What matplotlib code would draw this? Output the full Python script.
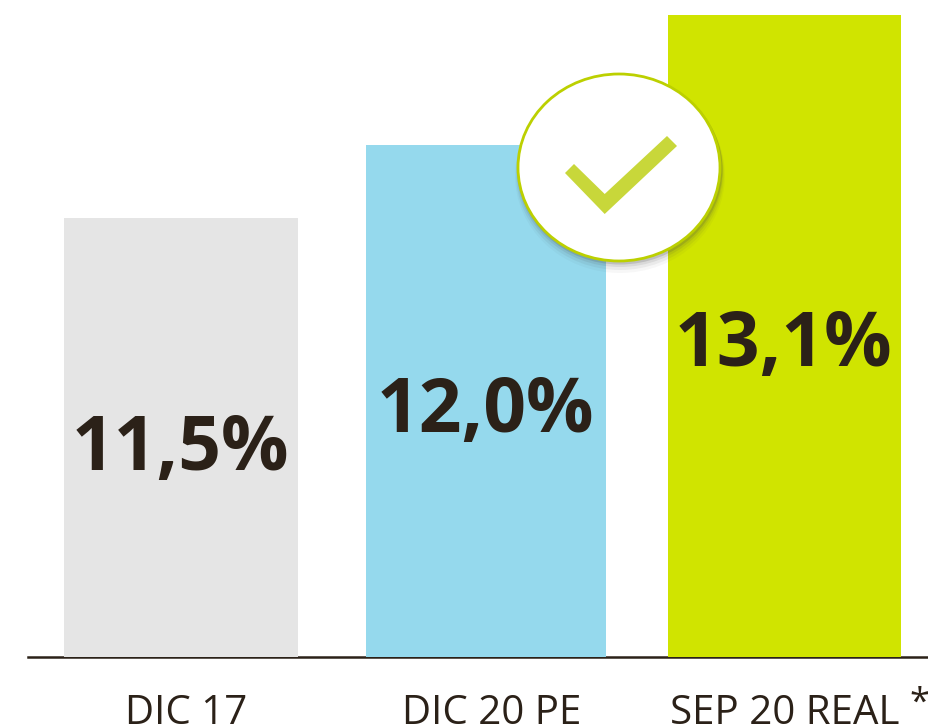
import matplotlib
matplotlib.use('Agg')
import matplotlib.pyplot as plt
from matplotlib.patches import Ellipse, Polygon

categories = ['DIC 17', 'DIC 20 PE', 'SEP 20 REAL']
labels = ['11,5%', '12,0%', '13,1%']
# altura dibujada de cada barra (el eje no arranca en cero)
bar_heights = [439, 512, 642]
bar_left = [64, 366, 668]
bar_width = [234, 240, 233]
bar_colors = ['#e5e5e5', '#95d9ed', '#d0e400']
text_color = '#2b2118'

fig = plt.figure(figsize=(9.29, 7.27), dpi=100)
ax = fig.add_axes([0, 0, 1, 1])
ax.set_xlim(0, 929)
ax.set_ylim(-70, 657)
ax.axis('off')

ax.plot([28, 929], [0, 0], color=text_color, lw=1.8, zorder=1)
ax.bar(bar_left, bar_heights, width=bar_width, align='edge', color=bar_colors, zorder=2)

# etiquetas
label_y = [207, 245, 311]
label_x = [180, 485, 783]
for x, y, t in zip(label_x, label_y, labels):
    ax.text(x, y, t, ha='center', va='center', fontsize=54, fontweight='bold',
            family='Open Sans', color=text_color, zorder=6)

cat_x = [186.5, 492, 785]
for x, t in zip(cat_x, categories):
    ax.text(x, -67, t, ha='center', va='baseline', fontsize=29, family='Open Sans',
            color=text_color, fontstretch='normal')
ax.text(919, -47, '*', ha='center', va='center', fontsize=26, family='Open Sans', color=text_color)

# elipse con sombra y check
for dw, dy, a in [(6, -8, 0.04), (4, -6, 0.07), (2, -4, 0.1), (1, -2, 0.18)]:
    ax.add_patch(Ellipse((620, 489.5 + dy), 204 + dw, 189 + dw, color='#444444', alpha=a, lw=0, zorder=4))
ax.add_patch(Ellipse((619, 489.5), 202, 187, facecolor='white', edgecolor='#bcd000', lw=2, zorder=5))
check = [(565, 484), (574, 493), (604.7, 463), (667, 521), (677, 511), (604.7, 443)]
ax.add_patch(Polygon(check, closed=True, facecolor='#c8d73a', lw=0, zorder=6))

fig.savefig('out.png', dpi=100)
